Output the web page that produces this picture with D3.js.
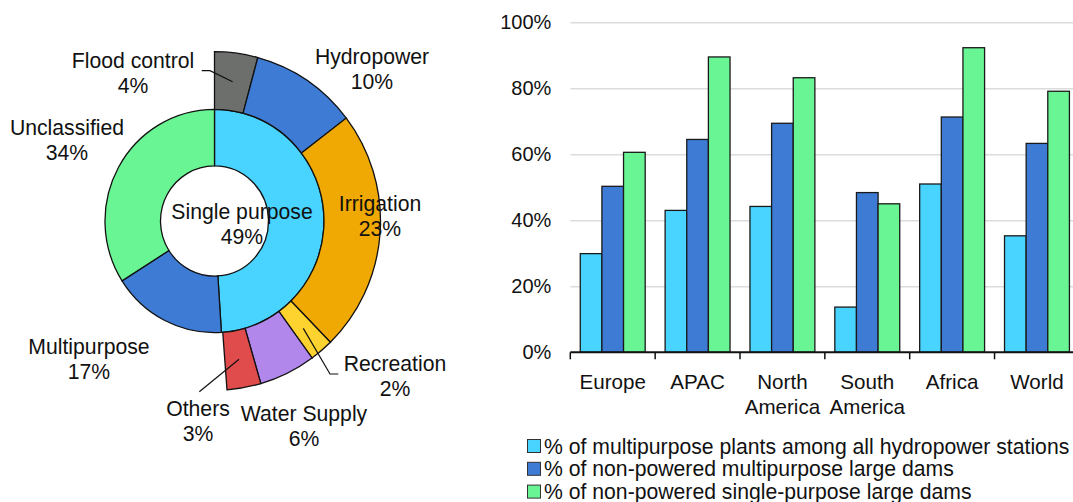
<!DOCTYPE html>
<html>
<head>
<meta charset="utf-8">
<script src="https://cdn.jsdelivr.net/npm/d3@7"></script>
<style>
  body { margin: 0; background: #fff; }
  svg { font-family: "Liberation Sans", Arial, sans-serif; }
  text { fill: #111; }
</style>
</head>
<body>
<div id="chart"></div>
<script>
// donut data
const innerNames = ['Single purpose', 'Multipurpose', 'Unclassified']
const innerValues = [49, 17, 34]
const outerNames = ['Flood control', 'Hydropower', 'Irrigation', 'Recreation', 'Water Supply', 'Others']
const outerValues = [4.2, 10.4, 23.1, 2.3, 5.5, 3.3]
const outerLabels = ['4%', '10%', '23%', '2%', '6%', '3%']

// bar data
const regions = ['Europe', 'APAC', 'North America', 'South America', 'Africa', 'World']
const seriesNames = [
    '% of multipurpose plants among all hydropower stations',
    '% of non-powered multipurpose large dams',
    '% of non-powered single-purpose large dams'
]
const multiPlants = [0.299, 0.430, 0.442, 0.137, 0.510, 0.353]
const multiDams = [0.503, 0.645, 0.694, 0.484, 0.713, 0.633]
const singleDams = [0.606, 0.895, 0.832, 0.450, 0.923, 0.791]
const yTicks = [0, 0.2, 0.4, 0.6, 0.8, 1]

const innerColors = ['#48d4ff', '#3e7bd5', '#69f593']
const outerColors = ['#6d6f6d', '#3e7bd5', '#f0a802', '#ffd32f', '#b287ec', '#e04b4b']
const seriesColors = ['#48d4ff', '#3e7bd5', '#69f593']

const W = 1073, H = 502
const svg = d3.select('#chart').append('svg').attr('width', W).attr('height', H)
const translate = (x, y) => 'translate(' + x + ', ' + y + ')'

// ---------- donut ----------
const cx = 214.5, cy = 221, sy = 1.02
const r0 = 54, r1 = 109.5, r2 = 166
const donut = svg.append('g').attr('transform', translate(cx, cy) + ' scale(1,' + sy + ')')

const innerPie = d3.pie().sort(null)
const outerPie = d3.pie().sort(null).endAngle(2 * Math.PI * d3.sum(outerValues) / 100)
const innerArc = d3.arc().innerRadius(r0).outerRadius(r1)
const outerArc = d3.arc().innerRadius(r1).outerRadius(r2)

donut.selectAll('path.inner')
    .data(innerPie(innerValues))
    .join('path')
    .attr('class', 'inner')
    .attr('d', innerArc)
    .attr('fill', (d, i) => innerColors[i])
    .attr('stroke', '#111')
    .attr('stroke-width', 1.3)
    .attr('vector-effect', 'non-scaling-stroke')

const outerArcs = outerPie(outerValues)
donut.selectAll('path.outer')
    .data(outerArcs)
    .join('path')
    .attr('class', 'outer')
    .attr('d', outerArc)
    .attr('fill', (d, i) => outerColors[i])
    .attr('stroke', '#111')
    .attr('stroke-width', 1.3)
    .attr('vector-effect', 'non-scaling-stroke')

// centroid in page coords
const centroid = (a) => {
    const c = outerArc.centroid(a)
    return [cx + c[0], cy + c[1] * sy]
}

// label placement (layout only)
const lineH = 25
const labelPos = {
    'Flood control': [133, 60],
    'Hydropower': [372, 56],
    'Irrigation': [380, 203],
    'Recreation': [395, 363],
    'Water Supply': [304, 413],
    'Others': [198, 408],
    'Single purpose': [242, 211],
    'Multipurpose': [89, 346],
    'Unclassified': [67, 127]
}
const leaderEnds = {
    'Flood control': [[210, 70.7], [201.7, 70.7]],
    'Recreation': [[330, 374], [338.3, 374]],
    'Others': [[199.3, 391.7]]
}

const labels = svg.append('g').attr('font-size', 21.2).attr('text-anchor', 'middle')
const addLabel = (name, pct) => {
    const p = labelPos[name]
    const t = labels.append('text').attr('x', p[0]).attr('y', p[1] + 7.5)
    t.append('tspan').attr('x', p[0]).text(name)
    t.append('tspan').attr('x', p[0]).attr('dy', lineH).text(pct)
}
innerNames.forEach((n, i) => addLabel(n, innerValues[i] + '%'))
outerNames.forEach((n, i) => addLabel(n, outerLabels[i]))

Object.keys(leaderEnds).forEach(name => {
    const a = outerArcs[outerNames.indexOf(name)]
    const pts = [centroid(a)].concat(leaderEnds[name])
    svg.append('path')
        .attr('d', d3.line()(pts))
        .attr('fill', 'none')
        .attr('stroke', '#111')
        .attr('stroke-width', 1.2)
})

// ---------- bar chart ----------
const plot = { left: 570.3, right: 1079.4, top: 22.3, bottom: 352.3 }
const x0 = d3.scaleBand().domain(regions).range([plot.left, plot.right])
    .paddingInner(0.235).paddingOuter(0.1175)
const x1 = d3.scaleBand().domain(d3.range(3)).range([0, x0.bandwidth()])
const y = d3.scaleLinear().domain([0, 1]).range([plot.bottom, plot.top])

const yAxis = svg.append('g')
    .attr('transform', translate(plot.left, 0))
    .call(d3.axisLeft(y).tickValues(yTicks).tickFormat(d3.format('.0%'))
        .tickSize(-(W - plot.left)).tickPadding(19))
yAxis.select('.domain').remove()
yAxis.selectAll('.tick line').attr('stroke', '#dcdcdc').attr('stroke-width', 1.5)
    .attr('stroke-opacity', d => d === 0 ? 0 : 1)
yAxis.selectAll('.tick text').attr('font-size', 20).attr('fill', '#111')
    .attr('font-family', '"Liberation Sans", Arial, sans-serif')

const table = regions.map((r, i) => ({ region: r, values: [multiPlants[i], multiDams[i], singleDams[i]] }))
svg.append('g')
    .selectAll('g')
    .data(table)
    .join('g')
    .attr('transform', d => translate(x0(d.region), 0))
    .selectAll('rect')
    .data(d => d.values)
    .join('rect')
    .attr('x', (d, i) => x1(i))
    .attr('y', d => y(d))
    .attr('width', x1.bandwidth())
    .attr('height', d => y(0) - y(d))
    .attr('fill', (d, i) => seriesColors[i])
    .attr('stroke', '#1a1a1a')
    .attr('stroke-width', 1.3)

// x axis line and ticks between categories
svg.append('line')
    .attr('x1', plot.left).attr('x2', W)
    .attr('y1', y(0)).attr('y2', y(0))
    .attr('stroke', '#111').attr('stroke-width', 2)
const gap = (x0.step() - x0.bandwidth()) / 2
svg.append('g').selectAll('line')
    .data(regions)
    .join('line')
    .attr('x1', d => x0(d) - gap)
    .attr('x2', d => x0(d) - gap)
    .attr('y1', y(0)).attr('y2', y(0) + 7)
    .attr('stroke', '#111').attr('stroke-width', 1.5)

svg.append('g')
    .attr('font-size', 20.6).attr('text-anchor', 'middle')
    .selectAll('text')
    .data(regions)
    .join('text')
    .attr('x', d => x0(d) + x0.bandwidth() / 2)
    .attr('y', 389)
    .each(function (d) {
        const words = d.split(' ')
        const t = d3.select(this)
        words.forEach((w, i) => {
            t.append('tspan')
                .attr('x', x0(d) + x0.bandwidth() / 2)
                .attr('dy', i === 0 ? 0 : 24.5)
                .text(w)
        })
    })

// legend
const legend = svg.append('g').attr('transform', translate(527.5, 446))
seriesNames.forEach((s, i) => {
    const g = legend.append('g').attr('transform', translate(0, i * 22.8))
    g.append('rect')
        .attr('x', 0).attr('y', -6.5)
        .attr('width', 13).attr('height', 13)
        .attr('fill', seriesColors[i])
        .attr('stroke', '#333').attr('stroke-width', 1)
    g.append('text')
        .attr('x', 16.5).attr('y', 7.5)
        .attr('font-size', 21.2)
        .text(s)
})
</script>
</body>
</html>
